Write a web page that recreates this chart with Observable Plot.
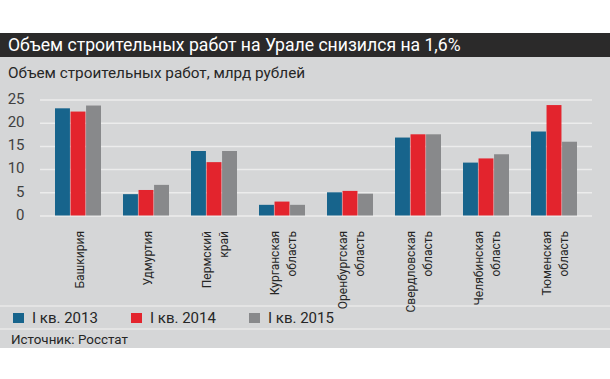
<!DOCTYPE html>
<html>
<head>
<meta charset="utf-8">
<script src="https://cdn.jsdelivr.net/npm/d3@7"></script>
<script src="https://cdn.jsdelivr.net/npm/@observablehq/plot@0.6"></script>
<style>
  html, body { margin: 0; padding: 0; background: #ffffff; }
  body { width: 610px; height: 379px; overflow: hidden; font-family: Roboto, "Liberation Sans", sans-serif; }
  #top { height: 33px; }
  #title { height: 24px; background: #2b2a2a; color: #ffffff; font-size: 17.6px; line-height: 24px; padding-left: 8px; white-space: nowrap; }
  #panel { background: #d5d6d7; height: 291px; position: relative; }
  #subtitle { height: 33px; line-height: 33px; font-size: 15.3px; color: #262626; padding-left: 8px; }
  #chart svg { display: block; overflow: visible; }
  #legend { border-top: 2px solid #e4e4e4; border-bottom: 2px solid #e4e4e4; height: 21px; display: flex; align-items: center; padding-left: 13px; font-size: 15px; color: #262626; }
  .item { display: flex; align-items: center; width: 118px; }
  .sw { width: 11px; height: 10px; margin-right: 8px; }
  #source { height: 20px; line-height: 20px; font-size: 13.4px; color: #262626; padding-left: 11px; }
</style>
</head>
<body>
<div id="top"></div>
<div id="title"></div>
<div id="panel">
  <div id="subtitle"></div>
  <div id="chart"></div>
  <div id="legend"></div>
  <div id="source"></div>
</div>
<script>
const titleText = "Объем строительных работ на Урале снизился на 1,6%";
const subtitleText = "Объем строительных работ, млрд рублей";
const sourceText = "Источник: Росстат";

const regions = [
  "Башкирия",
  "Удмуртия",
  "Пермский\nкрай",
  "Курганская\nобласть",
  "Оренбургская\nобласть",
  "Свердловская\nобласть",
  "Челябинская\nобласть",
  "Тюменская\nобласть"
];
const years = ["I кв. 2013", "I кв. 2014", "I кв. 2015"];
const colors = ["#17648c", "#e3242d", "#88898b"];
const yTicks = [0, 5, 10, 15, 20, 25];

const q2013 = [23.1, 4.6, 13.9, 2.3, 5.0, 16.8, 11.4, 18.1];
const q2014 = [22.4, 5.5, 11.5, 3.0, 5.3, 17.5, 12.3, 23.8];
const q2015 = [23.7, 6.6, 13.9, 2.3, 4.7, 17.5, 13.2, 15.9];
const series = [q2013, q2014, q2015];

document.getElementById("title").textContent = titleText;
document.getElementById("subtitle").textContent = subtitleText;
document.getElementById("source").textContent = sourceText;

// layout
const W = 610, H = 215, mL = 40, mR = 18, mT = 9.5, mB = 89.5;
const padIn = 0.323, padOut = 0.17;
const step = (W - mL - mR) / (regions.length - padIn + 2 * padOut);
const bw = step * (1 - padIn);
const third = bw / 3;

const barMarks = years.map((y, j) =>
  Plot.barY(regions.map((r, i) => ({ region: r, year: y, value: series[j][i] })), {
    x: "region", y: "value", fill: colors[j],
    insetLeft: j * third, insetRight: (2 - j) * third
  })
);

const chart = Plot.plot({
  width: W,
  height: H,
  marginTop: mT,
  marginBottom: mB,
  marginLeft: mL,
  marginRight: mR,
  style: { background: "transparent", fontFamily: "Roboto, 'Liberation Sans', sans-serif", overflow: "visible" },
  x: { domain: regions, paddingInner: padIn, paddingOuter: padOut, label: null },
  y: { domain: [0, 25], label: null },
  marks: [
    Plot.gridY(yTicks, { stroke: "#ececec", strokeOpacity: 1, strokeWidth: 1.5 }),
    Plot.axisY(yTicks, { tickSize: 0, tickPadding: 16, dy: -1, fontSize: 15, fill: "#404040", label: null }),
    ...barMarks,
    Plot.axisX({ tickRotate: -90, tickSize: 0, tickPadding: 15, fontSize: 12, lineHeight: 1.4, fill: "#262626", label: null })
  ]
});
document.getElementById("chart").appendChild(chart);

const legend = document.getElementById("legend");
years.forEach((y, j) => {
  const item = document.createElement("div");
  item.className = "item";
  const sw = document.createElement("div");
  sw.className = "sw";
  sw.style.background = colors[j];
  const t = document.createElement("span");
  t.textContent = y;
  item.appendChild(sw);
  item.appendChild(t);
  legend.appendChild(item);
});
</script>
</body>
</html>
